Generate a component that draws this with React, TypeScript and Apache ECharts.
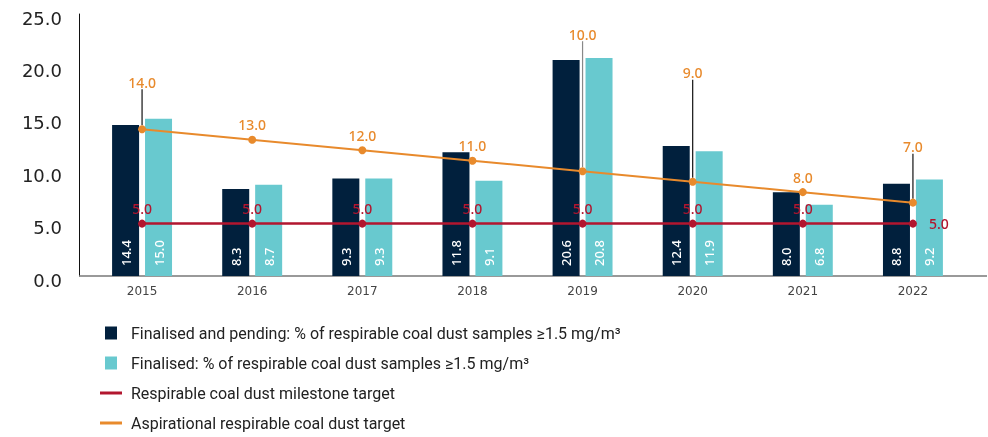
import React, { useEffect, useRef } from "react";
import * as echarts from "echarts";

const years = ["2015", "2016", "2017", "2018", "2019", "2020", "2021", "2022"];
const finalisedPending = [14.4, 8.3, 9.3, 11.8, 20.6, 12.4, 8.0, 8.8];
const finalised = [15.0, 8.7, 9.3, 9.1, 20.8, 11.9, 6.8, 9.2];
const milestoneTarget = [5.0, 5.0, 5.0, 5.0, 5.0, 5.0, 5.0, 5.0];
const aspirationalTarget = [14.0, 13.0, 12.0, 11.0, 10.0, 9.0, 8.0, 7.0];
const aspirationalLabelShift = [-32, 0, 0, 0, -122, -94, 0, -41];
const yTicks = [0, 5, 10, 15, 20, 25];

const names = [
  "Finalised and pending: % of respirable coal dust samples \u22651.5 mg/m\u00b3",
  "Finalised: % of respirable coal dust samples \u22651.5 mg/m\u00b3",
  "Respirable coal dust milestone target",
  "Aspirational respirable coal dust target",
];

const NAVY = "#01203D";
const TEAL = "#68C9CF";
const RED = "#B2162F";
const ORANGE = "#E88A2C";

export default function App() {
  const ref = useRef<HTMLDivElement>(null);
  useEffect(() => {
    if (!ref.current) return;
    const chart = echarts.init(ref.current, null, { renderer: "svg" });
    const legendFont = {
      fontFamily: "'Liberation Sans Narrow', Roboto, sans-serif",
      fontSize: 16,
      color: "#222",
    };
    const mkLegend = (i: number, left: number, top: number, w: number, h: number, icon: string, pad: number) => ({
      show: true,
      data: [{ name: names[i], icon }],
      left,
      top,
      itemWidth: w,
      itemHeight: h,
      selectedMode: false,
      textStyle: { ...legendFont, padding: [0, 0, 0, pad] },
    });
    const barLabel = {
      show: true,
      position: "insideBottom",
      rotate: 90,
      align: "left",
      verticalAlign: "middle",
      distance: 10,
      color: "#fff",
      fontFamily: "'Noto Sans', sans-serif",
      fontSize: 13,
      fontWeight: 500,
      formatter: (p: any) => Number(p.value).toFixed(1),
    };
    chart.setOption({
      animation: false,
      grid: { left: 87, right: 20, top: 14, bottom: 161 },
      legend: [
        mkLegend(0, 100, 320, 12, 13, "rect", 9),
        mkLegend(1, 100, 350, 12, 13, "rect", 9),
        mkLegend(2, 95, 380, 22, 3, "rect", 4),
        mkLegend(3, 95, 410, 22, 3, "rect", 4),
      ],
      graphic: [
        {
          type: "line",
          shape: { x1: 79, y1: 276, x2: 987, y2: 276 },
          style: { stroke: "#777", lineWidth: 1.5 },
          z: 1,
        },
      ],
      xAxis: {
        type: "category",
        data: years,
        axisLine: { show: false },
        axisTick: { show: false },
        axisLabel: {
          color: "#444",
          fontFamily: "'DejaVu Sans', sans-serif",
          fontSize: 12,
          margin: 9,
        },
      },
      yAxis: {
        type: "value",
        min: yTicks[0],
        max: yTicks[yTicks.length - 1],
        interval: 5,
        offset: 8,
        axisLine: { show: true, lineStyle: { color: "#111", width: 1 } },
        axisTick: { show: false },
        splitLine: { show: false },
        axisLabel: {
          color: "#222",
          fontFamily: "'DejaVu Sans', sans-serif",
          fontSize: 18,
          margin: 17,
          verticalAlign: "top",
          lineHeight: 8,
          formatter: (v: number) => v.toFixed(1),
        },
      },
      series: [
        {
          name: names[0],
          type: "bar",
          data: finalisedPending,
          barWidth: 27,
          barGap: "22%",
          itemStyle: { color: NAVY },
          label: barLabel,
        },
        {
          name: names[1],
          type: "bar",
          data: finalised,
          barWidth: 27,
          itemStyle: { color: TEAL },
          label: barLabel,
        },
        {
          name: names[2],
          type: "line",
          data: milestoneTarget.map((v, i) =>
            i === milestoneTarget.length - 1
              ? { value: v, label: { position: "right", distance: 12 } }
              : v
          ),
          symbol: "circle",
          symbolSize: 8,
          itemStyle: { color: RED },
          lineStyle: { color: RED, width: 2.5 },
          z: 5,
          label: {
            show: true,
            position: "top",
            distance: 4,
            color: RED,
            fontFamily: "'Noto Sans', sans-serif",
            fontSize: 14,
            fontWeight: 500,
            formatter: (p: any) => Number(p.value).toFixed(1),
          },
        },
        {
          name: names[3],
          type: "line",
          data: aspirationalTarget.map((v, i) =>
            aspirationalLabelShift[i] !== 0
              ? {
                  value: v,
                  labelLine: {
                    show: true,
                    lineStyle: { color: i === 4 ? "#888" : "#111", width: 1.2 },
                  },
                }
              : v
          ),
          symbol: "circle",
          symbolSize: 8,
          itemStyle: { color: ORANGE },
          lineStyle: { color: ORANGE, width: 2 },
          z: 6,
          label: {
            show: true,
            position: "top",
            distance: 4,
            color: ORANGE,
            fontFamily: "'Noto Sans', sans-serif",
            fontSize: 14,
            fontWeight: 500,
            formatter: (p: any) => Number(p.value).toFixed(1),
          },
          labelLine: { show: false },
          labelLayout: (params: any) => ({
            dy: aspirationalLabelShift[params.dataIndex] || 0,
          }),
        },
      ],
    });
    return () => chart.dispose();
  }, []);
  return (
    <div
      ref={ref}
      style={{ position: "fixed", left: 0, top: 0, width: 988, height: 437 }}
    />
  );
}
